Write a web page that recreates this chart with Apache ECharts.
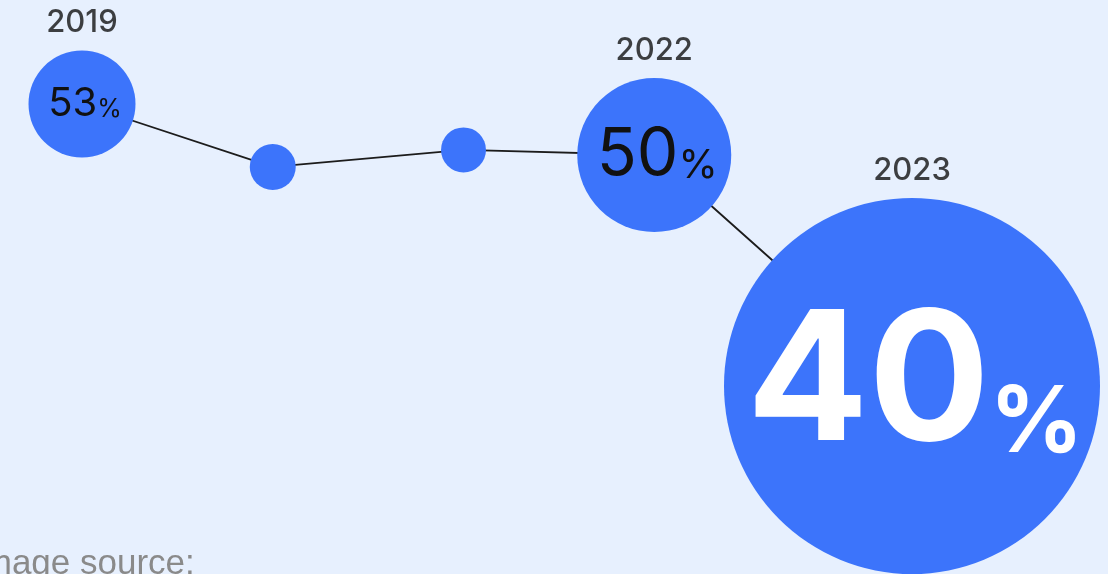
<!DOCTYPE html>
<html>
<head>
<meta charset="utf-8">
<script src="https://cdn.jsdelivr.net/npm/echarts@6/dist/echarts.min.js"></script>
<style>
    html, body { margin: 0; padding: 0; background: #e7f0fe; }
    #chart { width: 1108px; height: 574px; }
</style>
</head>
<body>
<div id="chart"></div>
<script>
    // data
    const years = ['2019', '2020', '2021', '2022', '2023'];
    const shares = [53, 49.3, 50.3, 50, 40];
    const labelledYears = ['2019', '2022', '2023'];

    // look of each bubble
    const bubbleSizes = [107, 46, 45, 154, 376];
    const numberFonts = [40, 0, 0, 66, 180];
    const percentFonts = [25, 0, 0, 40, 92];
    const bubbleShift = [[0, 0], [0, 0], [0, 0], [0, 0], [67, 61]];

    const blue = '#3c74fb';
    const font = 'Inter';

    let chart = echarts.init(document.getElementById('chart'));

    const bubbles = shares.map(function (v, i) {
        const big = i === shares.length - 1;
        const txt = big ? '#ffffff' : '#111111';
        const weight = big ? 'bold' : 'normal';
        return {
            value: v,
            symbolSize: bubbleSizes[i],
            symbolOffset: bubbleShift[i],
            label: {
                show: labelledYears.indexOf(years[i]) > -1,
                position: 'inside',
                offset: [3, 0],
                formatter: '{n|' + v + '}{p|%}',
                rich: {
                    n: {
                        fontFamily: font, fontSize: numberFonts[i], fontWeight: weight,
                        color: txt, lineHeight: numberFonts[i], verticalAlign: 'bottom'
                    },
                    p: {
                        fontFamily: font, fontSize: percentFonts[i], fontWeight: weight,
                        color: txt, lineHeight: percentFonts[i], verticalAlign: 'bottom',
                        padding: [0, 0, Math.round(percentFonts[i] * 0.06), 0]
                    }
                }
            }
        };
    });

    const yearMarks = shares.map(function (v, i) {
        return {
            value: v,
            symbolSize: bubbleSizes[i],
            symbolOffset: bubbleShift[i],
            label: {
                show: labelledYears.indexOf(years[i]) > -1,
                position: 'top',
                distance: 12,
                formatter: years[i]
            }
        };
    });

    let chartData = {
        backgroundColor: '#e7f0fe',
        animation: false,
        grid: {
            left: 82,
            right: 263,
            top: 2,
            bottom: 79,
            outerBoundsMode: 'none'
        },
        xAxis: {
            type: 'category',
            data: years,
            boundaryGap: false,
            show: false
        },
        yAxis: {
            type: 'value',
            min: 30,
            max: 59,
            show: false
        },
        graphic: [{
            type: 'text',
            left: -27,
            top: 547,
            style: {
                text: 'Image source:',
                font: '35px "Liberation Sans", Arial, sans-serif',
                fill: '#8a8a8a'
            }
        }],
        series: [{
            type: 'line',
            data: bubbles,
            symbol: 'circle',
            showAllSymbol: true,
            lineStyle: { color: '#1c1c1c', width: 1.8 },
            itemStyle: { color: blue },
            emphasis: { disabled: true },
            z: 2
        }, {
            type: 'scatter',
            data: yearMarks,
            symbol: 'circle',
            itemStyle: { color: 'transparent' },
            label: {
                fontFamily: font,
                fontSize: 31,
                fontWeight: 500,
                color: '#111111',
                lineHeight: 31
            },
            silent: true,
            z: 3
        }]
    };
    chart.setOption(chartData);
</script>
</body>
</html>
